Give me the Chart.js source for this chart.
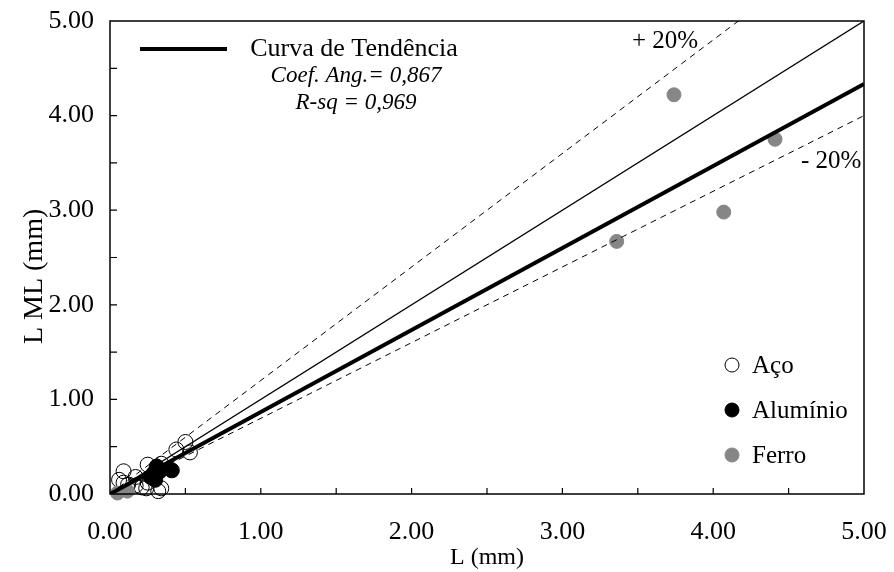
<!DOCTYPE html>
<html>
<head>
<meta charset="utf-8">
<script src="https://cdn.jsdelivr.net/npm/chart.js@4.4.1/dist/chart.umd.min.js"></script>
<style>
  html, body { margin: 0; padding: 0; background: #fff; }
  #wrap { width: 894px; height: 572px; }
</style>
</head>
<body>
<div id="wrap"><canvas id="c" width="894" height="572"></canvas></div>
<script>
// Measured lengths: L (mm) vs L ML (mm)
const acoX = [0.09, 0.06, 0.09, 0.17, 0.17, 0.21, 0.25, 0.25, 0.24, 0.34, 0.32, 0.34, 0.44, 0.50, 0.53, 0.30, 0.12];
const acoY = [0.24, 0.15, 0.12, 0.18, 0.09, 0.07, 0.31, 0.12, 0.06, 0.32, 0.03, 0.06, 0.47, 0.55, 0.44, 0.20, 0.10];
const aluminioX = [0.41, 0.31, 0.29, 0.30, 0.33, 0.27];
const aluminioY = [0.25, 0.29, 0.22, 0.15, 0.24, 0.18];
const ferroX = [3.74, 4.41, 4.07, 3.36, 0.115, 0.05];
const ferroY = [4.22, 3.75, 2.98, 2.67, 0.03, 0.01];

// Reference lines: 1:1, ±20 % and fitted trend (slope from the regression)
const lineX = [0, 5];
const slopeIdeal = 1.0;
const slopePlus = 1.2;
const slopeMinus = 0.8;
const slopeTrend = 0.867;
const rSquared = 0.969;

const seriesNames = ['Aço', 'Alumínio', 'Ferro'];
const trendName = 'Curva de Tendência';
const xTitle = 'L (mm)';
const yTitle = 'L ML (mm)';
const axisTicks = [0, 1, 2, 3, 4, 5];

const SERIF = '"Liberation Serif", "Times New Roman", serif';
const GRAY = '#868686';

const pts = (xs, ys) => xs.map((x, i) => ({ x: x, y: ys[i] }));
const ray = (k) => lineX.map(x => ({ x: x, y: k * x }));

// keep the plot box exactly where the layout padding puts it
const noOverflow = (s) => { s.paddingTop = 0; s.paddingBottom = 0; s.paddingLeft = 0; s.paddingRight = 0; };

const overlay = {
  id: 'overlay',
  afterDatasetsDraw(chart) {
    const { ctx, chartArea: a, scales: { x, y } } = chart;
    ctx.save();
    // frame
    ctx.strokeStyle = '#000';
    ctx.lineWidth = 1.5;
    ctx.strokeRect(a.left, a.top, a.right - a.left, a.bottom - a.top);
    // inward ticks every 0.5
    ctx.lineWidth = 1.2;
    ctx.beginPath();
    for (let v = 0.5; v < 5; v += 0.5) {
      const px = x.getPixelForValue(v);
      ctx.moveTo(px, a.bottom); ctx.lineTo(px, a.bottom - 6);
      const py = y.getPixelForValue(v);
      ctx.moveTo(a.left, py); ctx.lineTo(a.left + 7, py);
    }
    ctx.stroke();

    // vertical axis title, set a little below the axis midpoint
    ctx.save();
    ctx.translate(35, y.getPixelForValue(2.3));
    ctx.rotate(-Math.PI / 2);
    ctx.font = '28px ' + SERIF;
    ctx.fillStyle = '#000';
    ctx.textAlign = 'center';
    ctx.textBaseline = 'middle';
    ctx.fillText(yTitle, 0, 0);
    ctx.restore();

    // trend legend (top-left)
    ctx.lineWidth = 4;
    ctx.beginPath();
    ctx.moveTo(140, 49); ctx.lineTo(227, 49);
    ctx.stroke();
    ctx.fillStyle = '#000';
    ctx.textAlign = 'center';
    ctx.textBaseline = 'middle';
    ctx.font = '26px ' + SERIF;
    ctx.fillText(trendName, 354, 49);
    ctx.font = 'italic 23px ' + SERIF;
    ctx.fillText('Coef. Ang.= ' + slopeTrend.toFixed(3).replace('.', ','), 356, 76);
    ctx.fillText('R-sq = ' + rSquared.toFixed(3).replace('.', ','), 356, 103);

    // ±20 % labels
    ctx.font = '25px ' + SERIF;
    ctx.textAlign = 'left';
    ctx.fillText('+ 20%', 632, 41);
    ctx.fillText('- 20%', 801, 161);

    // series legend (bottom-right)
    const items = [
      { fill: '#fff', stroke: '#000' },
      { fill: '#000', stroke: '#000' },
      { fill: GRAY, stroke: GRAY }
    ];
    const ys = [365, 410, 455];
    items.forEach((it, i) => {
      ctx.beginPath();
      ctx.arc(732, ys[i], 7, 0, Math.PI * 2);
      ctx.fillStyle = it.fill;
      ctx.fill();
      ctx.lineWidth = 1;
      ctx.strokeStyle = it.stroke;
      ctx.stroke();
      ctx.fillStyle = '#000';
      ctx.fillText(seriesNames[i], 752, ys[i] + 1);
    });
    ctx.restore();
  }
};

new Chart(document.getElementById('c'), {
  type: 'scatter',
  data: {
    datasets: [
      { label: '+20%', type: 'line', data: ray(slopePlus), borderColor: '#000', borderWidth: 1, borderDash: [6, 5], pointRadius: 0, order: 1 },
      { label: '-20%', type: 'line', data: ray(slopeMinus), borderColor: '#000', borderWidth: 1, borderDash: [6, 5], pointRadius: 0, order: 1 },
      { label: '1:1', type: 'line', data: ray(slopeIdeal), borderColor: '#000', borderWidth: 1.3, pointRadius: 0, order: 1 },
      { label: trendName, type: 'line', data: ray(slopeTrend), borderColor: '#000', borderWidth: 4, pointRadius: 0, order: 0 },
      { label: seriesNames[0], data: pts(acoX, acoY), pointRadius: 7.5, pointBackgroundColor: 'rgba(255,255,255,0)', pointBorderColor: '#000', pointBorderWidth: 1, clip: false, order: 4 },
      { label: seriesNames[1], data: pts(aluminioX, aluminioY), pointRadius: 7.5, pointBackgroundColor: '#000', pointBorderColor: '#000', pointBorderWidth: 1, clip: false, order: 3 },
      { label: seriesNames[2], data: pts(ferroX, ferroY), pointRadius: 7, pointBackgroundColor: GRAY, pointBorderColor: GRAY, pointBorderWidth: 1, clip: false, order: 2 }
    ]
  },
  options: {
    responsive: false,
    animation: false,
    layout: { padding: { top: 21, right: 30, left: 0, bottom: 0 } },
    plugins: { legend: { display: false }, tooltip: { enabled: false } },
    scales: {
      x: {
        type: 'linear', min: 0, max: 5,
        afterBuildTicks: (s) => { s.ticks = axisTicks.map(v => ({ value: v })); },
        afterFit: (s) => { s.height = 78; noOverflow(s); },
        grid: { display: false, drawTicks: false },
        border: { display: false },
        ticks: { color: '#000', padding: 23, font: { family: SERIF, size: 26 }, callback: (v) => Number(v).toFixed(2), maxRotation: 0 },
        title: { display: true, text: xTitle, color: '#000', font: { family: SERIF, size: 24 }, padding: { top: 0, bottom: 0 } }
      },
      y: {
        type: 'linear', min: 0, max: 5,
        afterBuildTicks: (s) => { s.ticks = axisTicks.map(v => ({ value: v })); },
        afterFit: (s) => { s.width = 110; noOverflow(s); },
        grid: { display: false, drawTicks: false },
        border: { display: false },
        ticks: { color: '#000', padding: 16, font: { family: SERIF, size: 26 }, callback: (v) => Number(v).toFixed(2) },
        title: { display: false, text: yTitle }
      }
    }
  },
  plugins: [overlay]
});
</script>
</body>
</html>
